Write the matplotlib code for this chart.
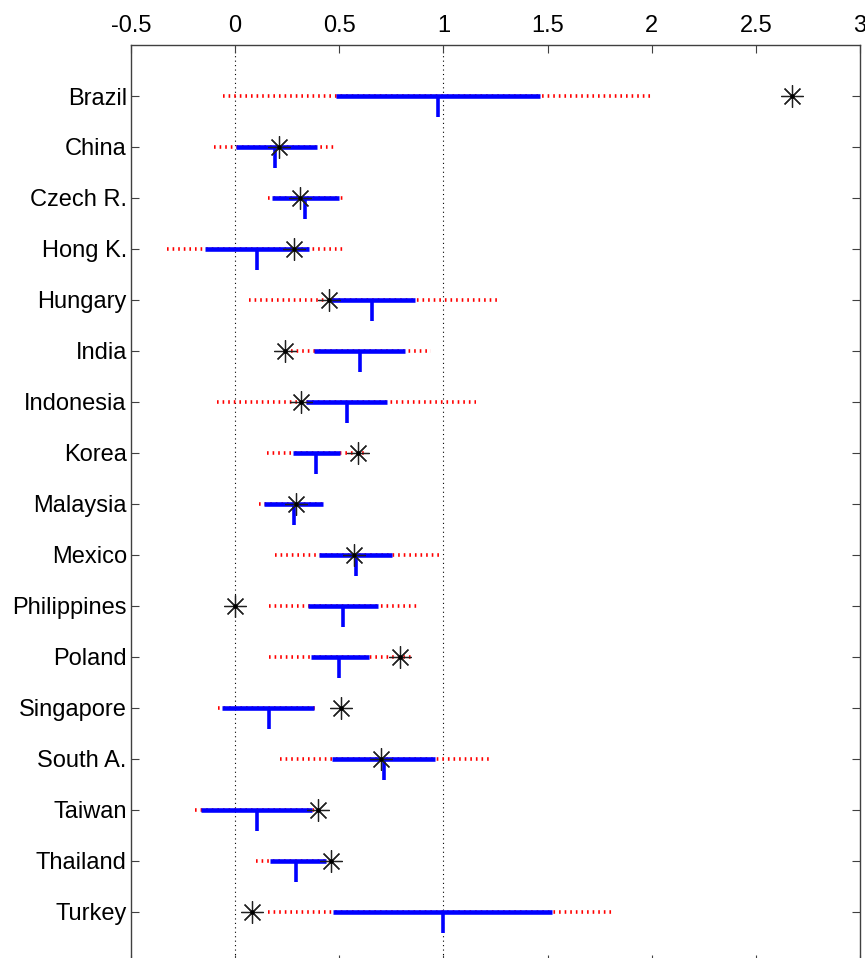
import numpy as np
import matplotlib
matplotlib.use('Agg')
from matplotlib import pyplot as plt
from matplotlib import font_manager

countries = ['Brazil', 'China', 'Czech R.', 'Hong K.', 'Hungary', 'India', 'Indonesia',
             'Korea', 'Malaysia', 'Mexico', 'Philippines', 'Poland', 'Singapore',
             'South A.', 'Taiwan', 'Thailand', 'Turkey']

# wide band (red dotted)
outer_lo = [-0.057, -0.102, 0.156, -0.326, 0.069, 0.270, -0.088, 0.153, 0.114,
            0.190, 0.161, 0.161, -0.084, 0.217, -0.193, 0.101, 0.159]
outer_hi = [2.007, 0.488, 0.528, 0.524, 1.262, 0.940, 1.158, 0.632, 0.434,
            0.990, 0.878, 0.849, 0.395, 1.225, 0.400, 0.466, 1.825]
# narrow band (blue)
inner_lo = [0.483, 0.002, 0.177, -0.143, 0.455, 0.381, 0.338, 0.277, 0.140,
            0.405, 0.349, 0.362, -0.061, 0.466, -0.162, 0.166, 0.469]
inner_hi = [1.463, 0.392, 0.499, 0.354, 0.863, 0.818, 0.730, 0.502, 0.423,
            0.754, 0.688, 0.643, 0.379, 0.960, 0.367, 0.434, 1.519]
median = [0.973, 0.193, 0.336, 0.105, 0.658, 0.598, 0.537, 0.389, 0.285,
          0.579, 0.516, 0.498, 0.162, 0.715, 0.105, 0.294, 0.998]
actual = [2.676, 0.209, 0.311, 0.283, 0.452, 0.240, 0.318, 0.588, 0.294,
          0.569, 0.000, 0.794, 0.510, 0.699, 0.399, 0.461, 0.079]

# pick a narrow font if present
names = {f.name for f in font_manager.fontManager.ttflist}
fam = 'Liberation Sans Narrow' if 'Liberation Sans Narrow' in names else 'Liberation Sans'
plt.rcParams['font.family'] = [fam, 'DejaVu Sans']

fig = plt.figure(figsize=(8.65, 9.58), dpi=100)
ax = fig.add_axes([0.1514, -0.005, 0.8428, 0.958])

y = np.arange(1, len(countries) + 1)

ax.axvline(0, color='k', lw=0.8, ls=(0, (1, 3)), zorder=1)
ax.axvline(1, color='k', lw=0.8, ls=(0, (1, 3)), zorder=1)

ax.hlines(y, outer_lo, outer_hi, colors='#ff0000', lw=2.6,
          linestyles=(0, (0.45, 1.1)), zorder=2)
ax.hlines(y, inner_lo, inner_hi, colors='#0000ff', lw=3.3, zorder=3)
ax.vlines(median, y, y + 0.42, colors='#0000ff', lw=2.6, zorder=3)
ax.plot(actual, y, ls='none', marker=(8, 2, 0), ms=16, mew=0.9, color='#202020', zorder=4)
ax.plot(actual, y, ls='none', marker='.', ms=4, color='k', zorder=4)

ax.set_xlim(-0.5, 3)
ax.set_ylim(18, 0)
ax.set_xticks(np.arange(-0.5, 3.01, 0.5))
ax.set_xticklabels(['-0.5', '0', '0.5', '1', '1.5', '2', '2.5', '3'])
ax.set_yticks(y)
ax.set_yticklabels(countries)

ax.xaxis.tick_top()
ax.tick_params(axis='x', which='both', top=True, bottom=True, direction='in',
               length=6, labelsize=17, pad=6, color='#404040')
ax.tick_params(axis='y', which='both', left=True, right=True, direction='in',
               length=6, labelsize=17, pad=3, color='#404040')
for s in ax.spines.values():
    s.set_color('#404040')
    s.set_linewidth(1.0)

fig.savefig('out.png', dpi=100)
